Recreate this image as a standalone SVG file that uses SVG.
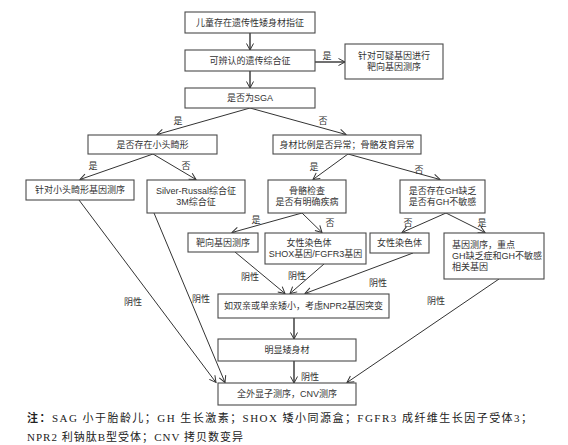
<svg xmlns="http://www.w3.org/2000/svg" width="568" height="445" viewBox="0 0 568 445">
<style>
.box{fill:#fff;stroke:#4a4a4a;stroke-width:1.1}
.t{font-family:"Liberation Sans","Noto Sans CJK SC",sans-serif;font-size:9px;fill:#333;text-anchor:middle;dominant-baseline:central}
.tl{text-anchor:start}
.c{stroke:#333;stroke-width:1;fill:none;marker-end:url(#ah)}
.cv{stroke:#333;stroke-width:1.4;fill:none;marker-end:url(#ah)}
.fn{font-family:"Liberation Serif","Noto Sans CJK SC",serif;font-size:11px;fill:#222}
</style>
<defs>
<marker id="ah" markerUnits="userSpaceOnUse" markerWidth="9" markerHeight="9" refX="7.5" refY="4.5" orient="auto">
<path d="M1,1 L7.5,4.5 L1,8" fill="none" stroke="#333" stroke-width="1"/>
</marker>
</defs>
<rect width="568" height="445" fill="#fff"/>

<g id="connectors">
<line class="cv" x1="250" y1="33" x2="250" y2="50"/>
<line class="cv" x1="250" y1="71" x2="250" y2="88"/>
<line class="cv" x1="315" y1="62" x2="345" y2="62"/>
<line class="c" x1="250" y1="108" x2="157" y2="134.5"/>
<line class="c" x1="250" y1="108" x2="346" y2="134.5"/>
<line class="c" x1="153" y1="154" x2="80" y2="179.5"/>
<line class="c" x1="153" y1="154" x2="196" y2="179.5"/>
<line class="c" x1="348" y1="154" x2="313" y2="179.5"/>
<line class="c" x1="348" y1="154" x2="440" y2="179.5"/>
<line class="c" x1="302" y1="213" x2="232" y2="232.5"/>
<line class="c" x1="302" y1="213" x2="322" y2="232.5"/>
<line class="c" x1="446" y1="213" x2="402" y2="232.5"/>
<line class="c" x1="446" y1="213" x2="485" y2="232.5"/>
<line class="c" x1="79" y1="200" x2="216" y2="382.5"/>
<line class="c" x1="154" y1="213" x2="225" y2="382.5"/>
<line class="c" x1="235" y1="252" x2="285" y2="293.5"/>
<line class="c" x1="324" y1="264" x2="290" y2="293.5"/>
<line class="c" x1="413" y1="253" x2="305" y2="293.5"/>
<line class="c" x1="499" y1="279" x2="347" y2="382.5"/>
<line class="cv" x1="294" y1="318" x2="294" y2="339"/>
<line class="cv" x1="294" y1="361" x2="294" y2="383"/>
<text class="t" x="327" y="56">是</text>
<text class="t" x="178" y="121">是</text>
<text class="t" x="323" y="121">否</text>
<text class="t" x="93" y="166">是</text>
<text class="t" x="186" y="166">否</text>
<text class="t" x="314" y="167">是</text>
<text class="t" x="419" y="170">否</text>
<text class="t" x="256" y="220">是</text>
<text class="t" x="330" y="223">否</text>
<text class="t" x="408" y="223">否</text>
<text class="t" x="482" y="223">是</text>
<text class="t" x="250" y="277">阴性</text>
<text class="t" x="297" y="276">阴性</text>
<text class="t" x="378" y="283">阴性</text>
<text class="t" x="133" y="302">阴性</text>
<text class="t" x="201" y="299">阴性</text>
<text class="t" x="436" y="301">阴性</text>
<text class="t" x="310" y="377">阴性</text>
</g>

<g id="n1"><rect class="box" x="185" y="12" width="130" height="21"/><text class="t" x="250" y="22.5">儿童存在遗传性矮身材指征</text></g>
<g id="n2"><rect class="box" x="185" y="50" width="130" height="21"/><text class="t" x="250" y="61">可辨认的遗传综合征</text></g>
<g id="n3"><rect class="box" x="345" y="44" width="98" height="35"/><text class="t" x="394" y="55.5">针对可疑基因进行</text><text class="t" x="394" y="67">靶向基因测序</text></g>
<g id="n4"><rect class="box" x="185" y="88" width="130" height="20"/><text class="t" x="250" y="98">是否为SGA</text></g>
<g id="n5"><rect class="box" x="88" y="135" width="129" height="19"/><text class="t" x="152.5" y="144.5">是否存在小头畸形</text></g>
<g id="n6"><rect class="box" x="273" y="135" width="148" height="19"/><text class="t" x="347" y="144.5">身材比例是否异常；骨骼发育异常</text></g>
<g id="n7"><rect class="box" x="26" y="180" width="108" height="20"/><text class="t" x="80" y="190">针对小头畸形基因测序</text></g>
<g id="n8"><rect class="box" x="147" y="180" width="98" height="33"/><text class="t" x="196" y="191">Silver-Russal综合征</text><text class="t" x="196" y="202">3M综合征</text></g>
<g id="n9"><rect class="box" x="268" y="180" width="78" height="33"/><text class="t" x="307" y="190.5">骨骼检查</text><text class="t" x="307" y="201.5">是否有明确疾病</text></g>
<g id="n10"><rect class="box" x="400" y="180" width="85" height="33"/><text class="t" x="442.5" y="191">是否存在GH缺乏</text><text class="t" x="442.5" y="202">是否有GH不敏感</text></g>
<g id="n11"><rect class="box" x="188" y="233" width="70" height="19"/><text class="t" x="223" y="242.5">靶向基因测序</text></g>
<g id="n12"><rect class="box" x="265" y="233" width="101" height="31"/><text class="t" x="309" y="243">女性染色体</text><text class="t" x="315.5" y="254">SHOX基因/FGFR3基因</text></g>
<g id="n13"><rect class="box" x="370" y="233" width="59" height="20"/><text class="t" x="399.5" y="243">女性染色体</text></g>
<g id="n14"><rect class="box" x="444" y="233" width="100" height="46"/><text class="t tl" x="452" y="244.5">基因测序，重点</text><text class="t tl" x="452" y="255.5">GH缺乏症和GH不敏感</text><text class="t tl" x="452" y="266.5">相关基因</text></g>
<g id="n15"><rect class="box" x="218" y="294" width="171" height="24"/><text class="t" x="303.5" y="306">如双亲或单亲矮小，考虑NPR2基因突变</text></g>
<g id="n16"><rect class="box" x="218" y="339" width="138" height="22"/><text class="t" x="287" y="350">明显矮身材</text></g>
<g id="n17"><rect class="box" x="218" y="383" width="138" height="22"/><text class="t" x="287" y="394">全外显子测序，CNV测序</text></g>

<g id="footnote">
<text class="fn" x="27" y="422" textLength="505" lengthAdjust="spacing"><tspan font-weight="bold">注：</tspan>SAG  小于胎龄儿；GH  生长激素；SHOX  矮小同源盒；FGFR3  成纤维生长因子受体3；</text>
<text class="fn" x="27" y="441" textLength="216" lengthAdjust="spacing">NPR2  利钠肽B型受体；CNV  拷贝数变异</text>
</g>
</svg>
